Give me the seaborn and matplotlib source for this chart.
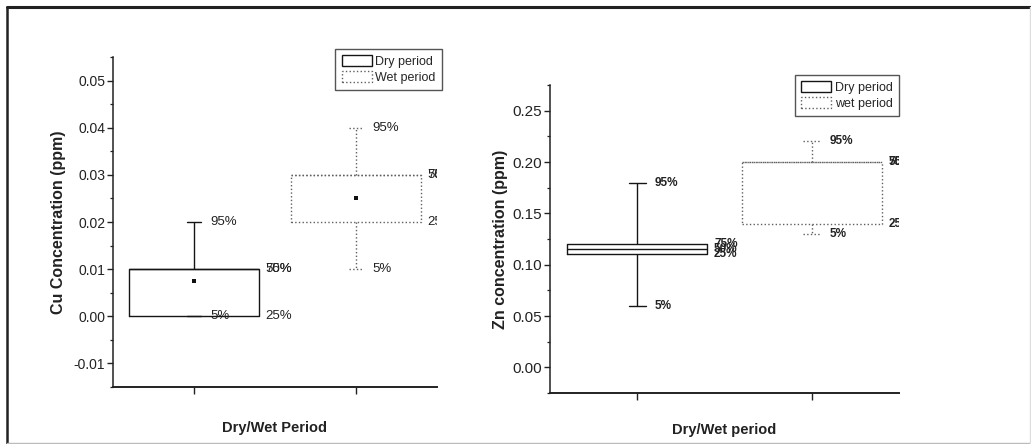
import matplotlib
matplotlib.use("Agg")
import matplotlib.pyplot as plt
import numpy as np
import pandas as pd
import seaborn as sns
from matplotlib.patches import Patch
from matplotlib.lines import Line2D
from matplotlib.ticker import MultipleLocator, FormatStrFormatter

# Percentile summaries (5%, 25%, 50%, 75%, 95%) per period
periods = ["Dry", "Wet"]
pct_names = ["5%", "25%", "50%", "75%", "95%"]
cu_dry = [0.000, 0.000, 0.010, 0.010, 0.020]
cu_wet = [0.010, 0.020, 0.030, 0.030, 0.040]
cu_mean = [0.0075, 0.025]
zn_dry = [0.060, 0.110, 0.115, 0.120, 0.180]
zn_wet = [0.130, 0.140, 0.200, 0.200, 0.220]

cu_legend = ["Dry period", "Wet period"]
zn_legend = ["Dry period", "wet period"]

sns.set_theme(style="ticks")
plt.rcParams["font.family"] = ["Liberation Sans", "DejaVu Sans"]
plt.rcParams["axes.edgecolor"] = "#222222"
plt.rcParams["xtick.color"] = "#222222"
plt.rcParams["ytick.color"] = "#222222"

fig = plt.figure(figsize=(10.31, 4.44), dpi=100)
fig.patch.set_facecolor("white")
ax_cu = fig.add_axes([113 / 1031, 1 - 387 / 444, 324 / 1031, 330 / 444])
ax_zn = fig.add_axes([550 / 1031, 1 - 393 / 444, 349 / 1031, 308 / 444])

styles = {
    "Dry": dict(color="#151515", ls="-"),
    "Wet": dict(color="#606060", ls=":"),
}


def draw_boxes(ax, stats, capw):
    for period, vals in zip(periods, stats):
        df = pd.DataFrame({"period": period, "value": vals})
        st = styles[period]
        sns.boxplot(
            data=df, x="period", y="value", order=periods,
            whis=(0, 100), width=0.8, fill=False,
            color=st["color"], linecolor=st["color"], linewidth=1.0,
            boxprops=dict(linestyle=st["ls"]),
            whiskerprops=dict(linestyle=st["ls"]),
            capprops=dict(linestyle=st["ls"]),
            medianprops=dict(linestyle=st["ls"], color=st["color"]),
            capwidths=capw, showfliers=False, ax=ax,
        )


def label_boxes(ax, stats, weight, size):
    for i, vals in enumerate(stats):
        for name, v in zip(pct_names, vals):
            off = 0.1 if name in ("5%", "95%") else 0.44
            ax.text(i + off, v, name, ha="left", va="center",
                    fontsize=size, fontweight=weight, color="#222222",
                    clip_on=True)


def style_axes(ax, ylim, major, minor, ylabel, xlabel, ylab_x, xlab_y, tsize):
    ax.set_xlim(-0.5, 1.5)
    ax.set_ylim(*ylim)
    ax.yaxis.set_major_locator(MultipleLocator(major))
    ax.yaxis.set_minor_locator(MultipleLocator(minor))
    ax.yaxis.set_major_formatter(FormatStrFormatter("%.2f"))
    ax.set_xticks([0, 1])
    ax.set_xticklabels([])
    for s in ("top", "right"):
        ax.spines[s].set_visible(False)
    ax.spines["left"].set_linewidth(1.1)
    ax.spines["bottom"].set_linewidth(1.4)
    ax.tick_params(axis="y", which="major", length=4, width=1.0,
                   direction="out", pad=1.5, labelsize=tsize, left=True)
    ax.tick_params(axis="y", which="minor", length=2.5, width=0.9,
                   direction="out", left=True)
    ax.tick_params(axis="x", which="major", length=5, width=1.0,
                   direction="out", bottom=True)
    ax.set_ylabel(ylabel, fontsize=11.5, fontweight="bold", color="#222222")
    ax.set_xlabel(xlabel, fontsize=10.5, fontweight="bold", color="#222222")
    ax.yaxis.set_label_coords(ylab_x, 0.5)
    ax.xaxis.set_label_coords(0.5, xlab_y)
    ax.grid(False)


# Cu panel
draw_boxes(ax_cu, [cu_dry, cu_wet], 0.09)
sns.scatterplot(x=periods, y=cu_mean, marker="s", s=5, color="#111111",
                linewidth=0, legend=False, ax=ax_cu)
label_boxes(ax_cu, [cu_dry, cu_wet], "normal", 9.5)
style_axes(ax_cu, (-0.015, 0.055), 0.01, 0.005,
           "Cu Concentration (ppm)", "Dry/Wet Period",
           -0.145, -0.103, 10)

# Zn panel
draw_boxes(ax_zn, [zn_dry, zn_wet], 0.1)
label_boxes(ax_zn, [zn_dry, zn_wet], "bold", 8.5)
style_axes(ax_zn, (-0.025, 0.275), 0.05, 0.025,
           "Zn concentration (ppm)", "Dry/Wet period",
           -0.12, -0.097, 11)


def add_legend(ax, labels, anchor):
    handles = [
        Patch(facecolor="white", edgecolor=styles["Dry"]["color"],
              linewidth=1.0, linestyle="-"),
        Patch(facecolor="white", edgecolor=styles["Wet"]["color"],
              linewidth=1.0, linestyle=":"),
    ]
    leg = ax.legend(handles, labels, loc="upper right",
                    bbox_to_anchor=anchor, bbox_transform=fig.transFigure,
                    frameon=True, fancybox=False, framealpha=1,
                    edgecolor="#555555", fontsize=9, handlelength=2.4,
                    handleheight=1.0, borderpad=0.5, labelspacing=0.25,
                    handletextpad=0.3, borderaxespad=0)
    leg.get_frame().set_linewidth(1.0)


add_legend(ax_cu, cu_legend, (442 / 1031, 1 - 49 / 444))
add_legend(ax_zn, zn_legend, (899 / 1031, 1 - 75 / 444))

# Outer frame around the figure
fig.add_artist(Line2D([7 / 1031, 1], [1 - 7 / 444] * 2,
                      transform=fig.transFigure, color="#222222", lw=2.2))
fig.add_artist(Line2D([7 / 1031] * 2, [0, 1 - 7 / 444],
                      transform=fig.transFigure, color="#222222", lw=1.8))
fig.add_artist(Line2D([7 / 1031, 1], [1.5 / 444] * 2,
                      transform=fig.transFigure, color="#bbbbbb", lw=1.0))
fig.add_artist(Line2D([1029.5 / 1031] * 2, [0, 1 - 7 / 444],
                      transform=fig.transFigure, color="#dddddd", lw=1.0))

fig.savefig("out.png", dpi=100, facecolor="white")
